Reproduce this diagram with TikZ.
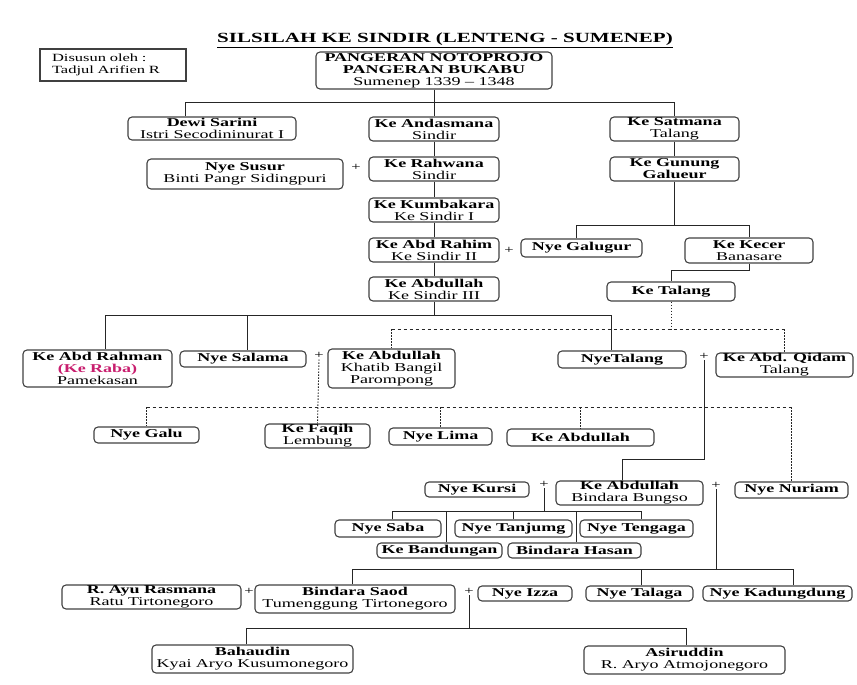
\documentclass[tikz,border=0pt]{standalone}
\usepackage{fontspec}
\setmainfont{Liberation Serif}[FakeStretch=1.5]
\newcommand\fs{\fontsize{12}{12}\selectfont}
\newcommand\fsmall{\fontsize{11}{12}\selectfont}
\newcommand\ftitle{\fontsize{14}{14}\selectfont\bfseries}
\definecolor{raba}{RGB}{200,30,110}
\tikzset{
  box/.style={draw=black!75, line width=1.1pt, rounded corners=4pt, inner sep=0pt, align=center, font=\fs},
  sq/.style={box, rounded corners=0pt},
  ln/.style={draw=black!85, line width=0.9pt},
  dl/.style={ln, dash pattern=on 3.5pt off 2.5pt},
  dv/.style={ln, dash pattern=on 1.5pt off 1.5pt},
  plus/.style={font=\fontsize{11}{11}\selectfont, inner sep=1pt},
}
\newcommand\bx[7][box]{\node[#1, minimum width={#5-#3}, minimum height={#6-#4}] (#2) at ({(#3+#5)/2},{(#4+#6)/2}) {#7};}
\begin{document}
\begin{tikzpicture}[x=1pt,y=-1pt]
\useasboundingbox (0,0) rectangle (857,685);
\node[inner sep=0pt] (title) at (445,40) {\ftitle\underline{SILSILAH KE SINDIR (LENTENG - SUMENEP)}};
\node[sq, font=\fsmall, text width=122pt, align=left, minimum width=146pt, minimum height=32pt] (dis) at (113,65) {Disusun oleh :\\Tadjul Arifien R};
\bx{top}{316}{52}{552}{89}{\textbf{PANGERAN NOTOPROJO}\\\textbf{PANGERAN BUKABU}\\Sumenep 1339 -- 1348}
\bx{dewi}{128}{117}{296}{140}{\textbf{Dewi Sarini}\\Istri Secodininurat I}
\bx{anda}{369}{117}{499}{141}{\textbf{Ke Andasmana}\\Sindir}
\bx{sat}{610}{117}{739}{141}{\textbf{Ke Satmana}\\Talang}
\bx{susur}{147}{159}{343}{189}{\textbf{Nye Susur}\\Binti Pangr Sidingpuri}
\bx{rahw}{369}{157}{499}{181}{\textbf{Ke Rahwana}\\Sindir}
\bx{gun}{610}{157}{739}{181}{\textbf{Ke Gunung}\\\textbf{Galueur}}
\bx{kumb}{369}{198}{499}{222}{\textbf{Ke Kumbakara}\\Ke Sindir I}
\bx{rahim}{369}{238}{499}{262}{\textbf{Ke Abd Rahim}\\Ke Sindir II}
\bx{galug}{521}{239}{642}{257}{\textbf{Nye Galugur}}
\bx{kecer}{685}{238}{813}{263}{\textbf{Ke Kecer}\\Banasare}
\bx{abd3}{369}{277}{499}{301}{\textbf{Ke Abdullah}\\Ke Sindir III}
\bx{talang}{607}{282}{735}{301}{\textbf{Ke Talang}}
\bx{rahman}{23}{350}{172}{387}{\textbf{Ke Abd Rahman}\\\textbf{\textcolor{raba}{(Ke Raba)}}\\Pamekasan}
\bx{salama}{180}{351}{306}{367}{\textbf{Nye Salama}}
\bx{khatib}{328}{349}{455}{388}{\textbf{Ke Abdullah}\\Khatib Bangil\\Parompong}
\bx{nyetal}{558}{351}{686}{368}{\textbf{NyeTalang}}
\bx{qidam}{716}{353}{853}{377}{\textbf{Ke Abd. Qidam}\\Talang}
\bx{galu}{94}{427}{199}{443}{\textbf{Nye Galu}}
\bx{faqih}{265}{424}{370}{448}{\textbf{Ke Faqih}\\Lembung}
\bx{lima}{389}{428}{492}{445}{\textbf{Nye Lima}}
\bx{abd4}{507}{429}{654}{446}{\textbf{Ke Abdullah}}
\bx{kursi}{425}{482}{529}{497}{\textbf{Nye Kursi}}
\bx{bungso}{556}{481}{703}{505}{\textbf{Ke Abdullah}\\Bindara Bungso}
\bx{nuriam}{735}{482}{848}{498}{\textbf{Nye Nuriam}}
\bx{saba}{335}{520}{441}{537}{\textbf{Nye Saba}}
\bx{tanj}{455}{520}{572}{537}{\textbf{Nye Tanjumg}}
\bx{teng}{580}{520}{693}{537}{\textbf{Nye Tengaga}}
\bx{band}{377}{543}{502}{558}{\textbf{Ke Bandungan}}
\bx{hasan}{508}{543}{641}{558}{\textbf{Bindara Hasan}}
\bx{ayu}{62}{585}{241}{609}{\textbf{R. Ayu Rasmana}\\Ratu Tirtonegoro}
\bx{saod}{255}{585}{455}{613}{\textbf{Bindara Saod}\\Tumenggung Tirtonegoro}
\bx{izza}{478}{586}{572}{601}{\textbf{Nye Izza}}
\bx{talaga}{586}{586}{693}{601}{\textbf{Nye Talaga}}
\bx{kadung}{703}{586}{852}{601}{\textbf{Nye Kadungdung}}
\bx{bahau}{152}{645}{353}{673}{\textbf{Bahaudin}\\Kyai Aryo Kusumonegoro}
\bx{asir}{584}{646}{785}{674}{\textbf{Asiruddin}\\R. Aryo Atmojonegoro}
% pluses
\node[plus] (p1) at (356,167) {+};
\node[plus] (p2) at (509,250) {+};
\node[plus] (p3) at (319,355) {+};
\node[plus] (p4) at (704,356) {+};
\node[plus] (p5) at (544,484) {+};
\node[plus] (p6) at (716,485) {+};
\node[plus] (p7) at (249,591) {+};
\node[plus] (p8) at (469,591) {+};
% bus coordinates
\coordinate (b1L) at (185,102);
\coordinate (b2L) at (576,225);
\coordinate (b3) at (0,270);
\coordinate (b4L) at (105,315);
\coordinate (b4S) at (247,315);
\coordinate (b4R) at (611,315);
\coordinate (b5) at (0,329);
\coordinate (b6) at (0,407);
\coordinate (b7) at (622,459);
\coordinate (b8L) at (392,511);
\coordinate (b8R) at (641,511);
\coordinate (b8a) at (446,511);
\coordinate (b8b) at (576,511);
\coordinate (b9L) at (352,569);
\coordinate (b9T) at (641,569);
\coordinate (b9R) at (793,569);
\coordinate (b10L) at (246,628);
\coordinate (b10R) at (686,628);
% connectors
\draw[ln] (top.south) -- (anda.north);
\draw[ln] (b1L |- dewi.north) -- (b1L) -- (sat.north |- b1L) -- (sat.north);
\draw[ln] (anda.south) -- (rahw.north) (rahw.south) -- (kumb.north) (kumb.south) -- (rahim.north) (rahim.south) -- (abd3.north);
\draw[ln] (sat.south) -- (gun.north);
\draw[ln] (gun.south) -- (gun.south |- b2L);
\draw[ln] (b2L |- galug.north) -- (b2L) -- (kecer.north |- b2L) -- (kecer.north);
\draw[ln] (kecer.south) -- (kecer.south |- b3) -| (talang.north);
\draw[ln] (abd3.south) -- (abd3.south |- b4L);
\draw[ln] (b4L |- rahman.north) -- (b4L) -- (b4R) -- (b4R |- nyetal.north);
\draw[ln] (b4S) -- (b4S |- salama.north);
\draw[dv] (talang.south) -- (talang.south |- b5);
\draw[dl] (khatib.north |- b5) -- (qidam.north |- b5);
\draw[dv] (khatib.north |- b5) -- (khatib.north);
\draw[dv] (qidam.north |- b5) -- (qidam.north);
\draw[dv] (p3.south) -- (faqih.north);
\draw[dl] (galu.north |- b6) -- (nuriam.north |- b6);
\draw[dv] (galu.north |- b6) -- (galu.north);
\draw[dv] (lima.north |- b6) -- (lima.north);
\draw[dv] (abd4.north |- b6) -- (abd4.north);
\draw[dv] (nuriam.north |- b6) -- (nuriam.north);
\draw[ln] (p4.south) |- (b7) -- (b7 |- bungso.north);
\draw[ln] (p5.south) -- (p5.south |- b8L);
\draw[ln] (b8L |- saba.north) -- (b8L) -- (b8R) -- (b8R |- teng.north);
\draw[ln] (tanj.north) -- (tanj.north |- b8L);
\draw[ln] (b8a) -- (b8a |- band.north);
\draw[ln] (b8b) -- (b8b |- hasan.north);
\draw[ln] (p6.south) -- (p6.south |- b9L);
\draw[ln] (b9L |- saod.north) -- (b9L) -- (b9R) -- (b9R |- kadung.north);
\draw[ln] (b9T) -- (b9T |- talaga.north);
\draw[ln] (p8.south) -- (p8.south |- b10L);
\draw[ln] (b10L |- bahau.north) -- (b10L) -- (b10R) -- (b10R |- asir.north);
\end{tikzpicture}
\end{document}
